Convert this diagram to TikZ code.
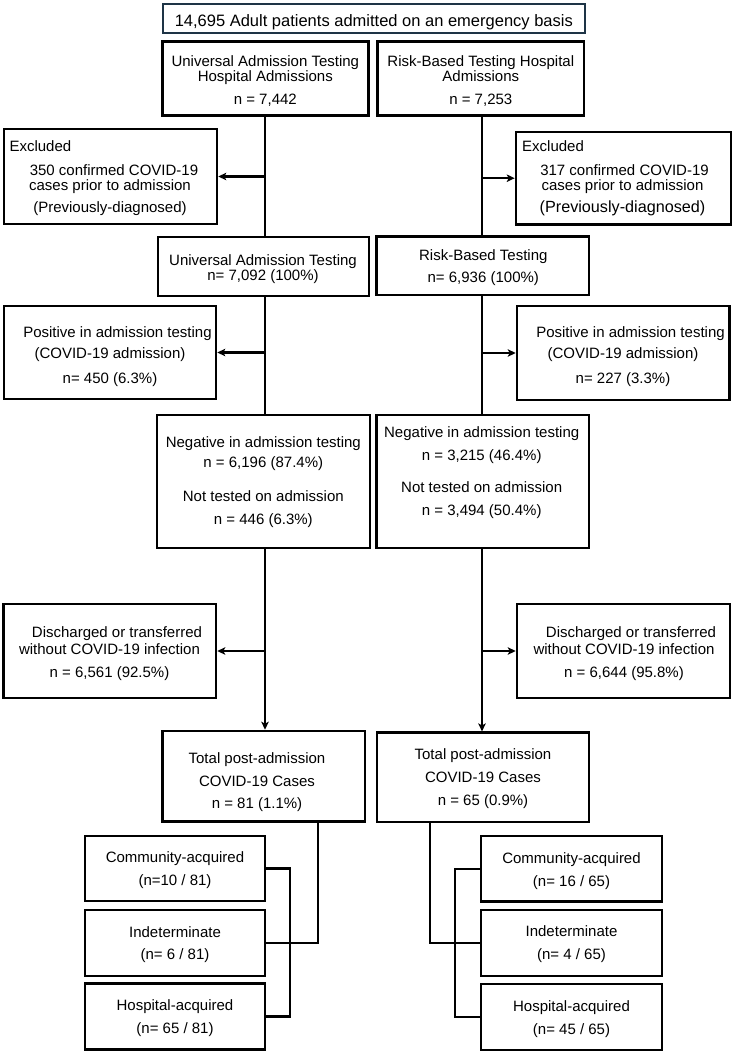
\documentclass[tikz,border=0pt]{standalone}
\usepackage{fontspec}
\setmainfont{Liberation Sans}
\usetikzlibrary{arrows.meta}
\definecolor{topframe}{RGB}{30,52,70}
\newcommand\myfs{\fontsize{15}{15}\selectfont}
\newcommand\mybox[5]{\node[box,minimum width=#4pt,minimum height=#5pt] (#1) at (#2,#3) {};}
\begin{document}
\begin{tikzpicture}[x=1pt,y=-1pt,
 box/.style={draw,line width=2.6pt,inner sep=0pt,rectangle},
 txt/.style={align=center,inner sep=0pt,font=\myfs,anchor=north},
 conn/.style={line width=2.3pt},
 arr/.style={conn,-{Stealth[length=8pt,width=7.5pt,inset=2pt]}}]
\useasboundingbox (0,0) rectangle (733,1054);
\fill[white] (0,0) rectangle (733,1054);

% boxes
\node[box,draw=topframe,line width=2.3pt,minimum width=422pt,minimum height=29pt] (top) at (373.8,18.5) {};
\mybox{b1L}{265.5}{78.7}{205.6}{74}
\mybox{b1R}{480.65}{78.7}{206.7}{74}
\mybox{exL}{110.5}{176.5}{213}{95}
\mybox{exR}{623.5}{178.2}{215}{92.5}
\mybox{b2L}{263.5}{266.5}{211}{59}
\mybox{b2R}{482.85}{265.85}{212.3}{58.3}
\mybox{posL}{110}{352.5}{212}{93}
\mybox{posR}{623.15}{353}{212.3}{94}
\mybox{negL}{263.5}{481.5}{213}{133}
\mybox{negR}{482.85}{481.5}{212.3}{133}
\mybox{disL}{109.65}{651}{212.7}{94}
\mybox{disR}{623.5}{651}{213}{94}
\mybox{totL}{263.85}{776.35}{202.3}{90.7}
\mybox{totR}{483}{777.35}{212}{89.3}
\mybox{comL}{175}{868.5}{180}{65}
\mybox{indL}{175}{943}{180}{66}
\mybox{hosL}{175}{1016.5}{180}{66}
\mybox{comR}{571.5}{868.85}{181}{65.7}
\mybox{indR}{571.5}{943}{181}{66}
\mybox{hosR}{571.5}{1017}{181}{66}

% texts
\node[font=\fontsize{16.5}{16.5}\selectfont,inner sep=0pt,anchor=base] (topT) at (373.8,26.5) {14,695 Adult patients admitted on an emergency basis};
\node[txt] (b1Lt) at (265.3,55) {Universal Admission Testing\\Hospital Admissions\\[8pt]n = 7,442};
\node[txt] (b1Rt) at (480.8,55) {Risk-Based Testing Hospital\\Admissions\\[8pt]n = 7,253};
\node[txt,anchor=base west] (exLh) at (9.3,151) {Excluded};
\node[txt] (exLt) at (110,164) {\hspace*{8pt}350 confirmed COVID-19\\cases prior to admission\\[7pt](Previously-diagnosed)};
\node[txt,anchor=base west] (exRh) at (522,151) {Excluded};
\node[txt] (exRt) at (622.5,164) {\hspace*{4pt}317 confirmed COVID-19\\cases prior to admission\\[7pt]{\fontsize{16.2}{15}\selectfont(Previously-diagnosed)}};
\node[txt] (b2Lt) at (263,254) {Universal Admission Testing\\n= 7,092 (100\%)};
\node[txt] (b2Rt) at (483.3,249) {Risk-Based Testing\\[7pt]n= 6,936 (100\%)};
\node[txt] (posLt) at (110,326) {\hspace*{15pt}Positive in admission testing\\[6pt](COVID-19 admission)\\[10pt]n= 450 (6.3\%)};
\node[txt] (posRt) at (623,326) {\hspace*{15pt}Positive in admission testing\\[6pt](COVID-19 admission)\\[10pt]n= 227 (3.3\%)};
\node[txt] (negLt) at (263.3,436) {Negative in admission testing\\[5pt]n = 6,196 (87.4\%)\\[19pt]Not tested on admission\\[8pt]n = 446 (6.3\%)};
\node[txt] (negRt) at (481.7,426) {Negative in admission testing\\[8pt]n = 3,215 (46.4\%)\\[17pt]Not tested on admission\\[8pt]n = 3,494 (50.4\%)};
\node[txt] (disLt) at (109.5,626) {\hspace*{15pt}Discharged or transferred\\[2pt]without COVID-19 infection\\[8pt]n = 6,561 (92.5\%)};
\node[txt] (disRt) at (624,626) {\hspace*{14pt}Discharged or transferred\\[2pt]without COVID-19 infection\\[8pt]n = 6,644 (95.8\%)};
\node[txt] (totLt) at (257,752) {Total post-admission\\[8pt]COVID-19 Cases\\[7pt]n = 81 (1.1\%)};
\node[txt] (totRt) at (483,748) {Total post-admission\\[8pt]COVID-19 Cases\\[8pt]n = 65 (0.9\%)};
\node[txt] (comLt) at (175,851) {Community-acquired\\[8pt](n=10 / 81)};
\node[txt] (indLt) at (175,926) {Indeterminate\\[7pt](n= 6 / 81)};
\node[txt] (hosLt) at (175,999) {Hospital-acquired\\[8pt](n= 65 / 81)};
\node[txt] (comRt) at (571.5,852) {Community-acquired\\[8pt](n= 16 / 65)};
\node[txt] (indRt) at (571.5,925.7) {Indeterminate\\[8pt](n= 4 / 65)};
\node[txt] (hosRt) at (571.5,1000.7) {Hospital-acquired\\[8pt](n= 45 / 65)};

% connectors
\coordinate (spL) at (265,0);
\coordinate (spR) at (482,0);
\draw[conn] (b1L.south -| spL) -- (b2L.north -| spL);
\draw[arr] (exL.east -| spL) -- (exL.east);
\draw[conn] (b1R.south -| spR) -- (b2R.north -| spR);
\draw[arr] (exR.west -| spR) -- (exR.west);
\draw[conn] (b2L.south -| spL) -- (negL.north -| spL);
\draw[arr] (posL.east -| spL) -- (posL.east);
\draw[conn] (b2R.south -| spR) -- (negR.north -| spR);
\draw[arr] (posR.west -| spR) -- (posR.west);
\draw[arr] (negL.south -| spL) -- (totL.north -| spL);
\draw[arr] (disL.east -| spL) -- (disL.east);
\draw[arr] (negR.south -| spR) -- (totR.north -| spR);
\draw[arr] (disR.west -| spR) -- (disR.west);
\draw[conn] ([xshift=54.15pt]totL.south) |- (indL.east);
\draw[conn] (comL.east) -- ++(24,0) |- (hosL.east);
\draw[conn] ([xshift=-53pt]totR.south) |- (indR.west);
\draw[conn] (comR.west) -- ++(-25,0) |- (hosR.west);
\end{tikzpicture}
\end{document}
